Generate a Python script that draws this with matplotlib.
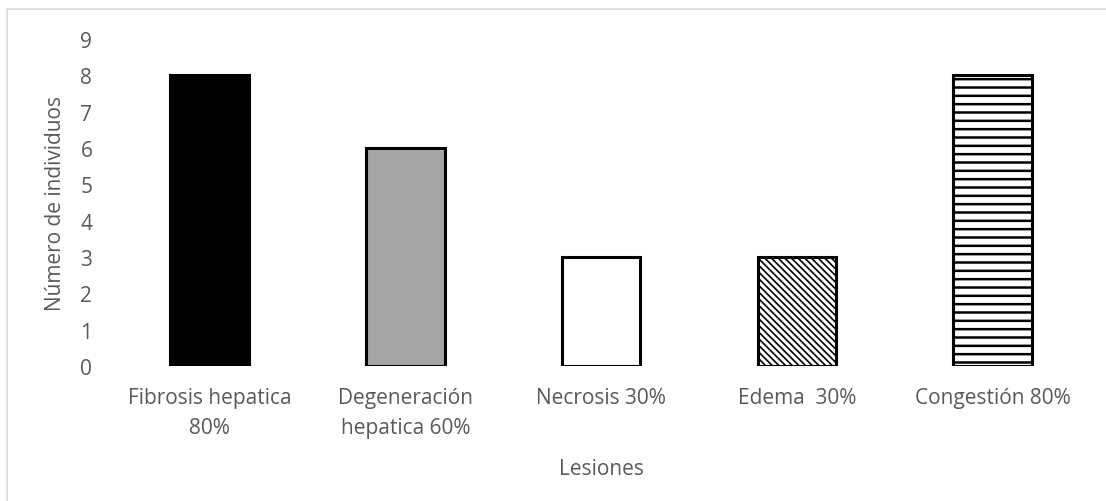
import matplotlib.pyplot as plt
from matplotlib.patches import Rectangle

lesiones = ["Fibrosis hepatica\n80%", "Degeneración\nhepatica 60%", "Necrosis 30%",
            "Edema  30%", "Congestión 80%"]
individuos = [8, 6, 3, 3, 8]
colores = ["#000000", "#A5A5A5", "#FFFFFF", "#FFFFFF", "#FFFFFF"]
tramas = [None, None, None, "\\\\\\\\\\", "--"]
grosor_trama = [1, 1, 1, 1.2, 1.8]

plt.rcParams["font.family"] = ["Open Sans", "DejaVu Sans"]
plt.rcParams["hatch.linewidth"] = 1.2
texto = "#595959"
fs = 15

fig = plt.figure(figsize=(11.06, 5.02), dpi=100)
ax = fig.add_axes([0.101, 0.269, 0.885, 0.651])

x = range(len(lesiones))
barras = ax.bar(x, individuos, width=0.4, color=colores, edgecolor="black",
                linewidth=2.2)
for b, t, g in zip(barras, tramas, grosor_trama):
    if t:
        b.set_hatch(t)
        if hasattr(b, "set_hatch_linewidth"):
            b.set_hatch_linewidth(g)

ax.set_xlim(-0.5, len(lesiones) - 0.5)
ax.set_ylim(0, 9)
ax.set_yticks(range(0, 10))
ax.set_xticks(list(x))
ax.set_xticklabels(lesiones, linespacing=1.55)
ax.tick_params(axis="both", length=0, labelsize=fs, colors=texto)
ax.tick_params(axis="y", pad=14)
ax.tick_params(axis="x", pad=15)
for s in ax.spines.values():
    s.set_visible(False)

ax.set_ylabel("Número de individuos", fontsize=fs, color=texto, labelpad=10)
ax.set_xlabel("Lesiones", fontsize=fs, color=texto, labelpad=15)

# marco del área del gráfico
fig.patches.append(Rectangle((7 / 1106, -0.05), 1.1, 0.03 + 1 - 10 / 502 + 0.02,
                             transform=fig.transFigure, fill=False,
                             edgecolor="#D9D9D9", linewidth=1.2))

fig.savefig("out.png", dpi=100)
